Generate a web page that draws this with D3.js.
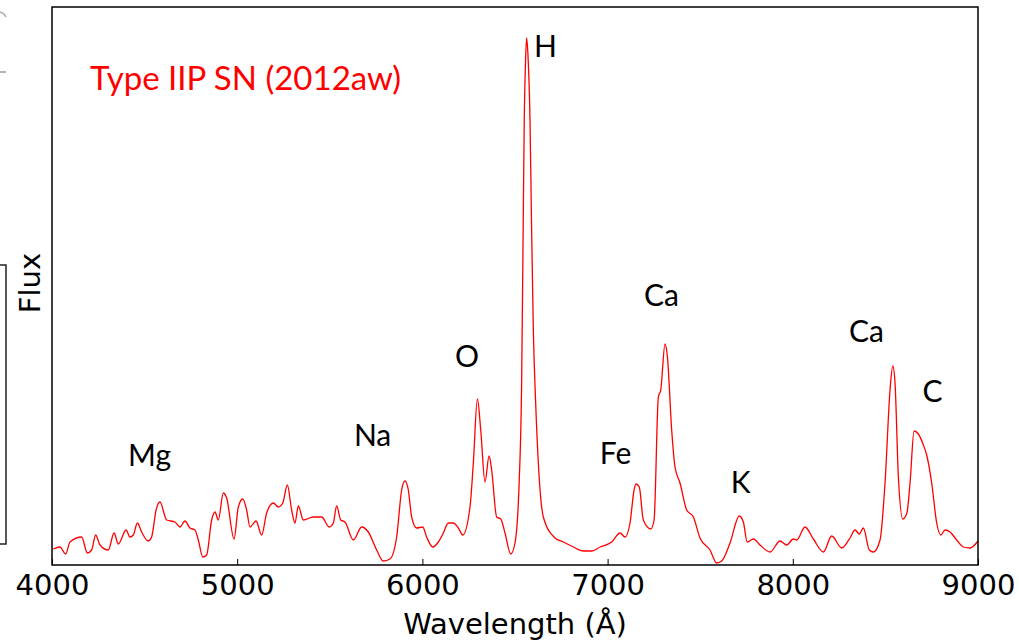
<!DOCTYPE html>
<html>
<head>
<meta charset="utf-8">
<script src="https://cdn.jsdelivr.net/npm/d3@7"></script>
<style>
  body { margin: 0; background: #fff; }
  svg { display: block; }
</style>
</head>
<body>
<script>
// spectrum of SN 2012aw (flux in arbitrary units)
const wavelength = [4007,4043,4074,4097,4160,4191,4214,4236,4259,4304,4335,4358,4400,4421,4439,4461,4484,4520,4538,4562,
  4583,4619,4664,4691,4718,4745,4772,4790,4814,4835,4862,4880,4898,4925,4943,4983,5006,5030,5051,5069,
  5102,5132,5159,5195,5222,5246,5271,5294,5312,5330,5357,5411,5456,5497,5519,5537,5559,5582,5627,5672,
  5708,5753,5789,5825,5861,5888,5906,5924,5942,5969,6002,6023,6056,6086,6113,6140,6167,6194,6218,6257,
  6275,6297,6315,6338,6360,6374,6401,6423,6446,6477,6500,6523,6536,6543,6550,6557,6563,6570,6581,6589,
  6599,6611,6626,6653,6716,6761,6815,6869,6914,6959,7022,7067,7094,7121,7143,7153,7171,7193,7233,7251,
  7274,7287,7310,7323,7346,7364,7391,7427,7463,7499,7553,7589,7616,7661,7711,7733,7754,7787,7823,7877,
  7931,7967,8003,8021,8066,8111,8165,8210,8264,8309,8336,8359,8381,8413,8435,8471,8498,8525,8540,8552,
  8570,8594,8616,8633,8655,8678,8705,8723,8750,8777,8799,8822,8849,8885,8921,8957,9000];
const flux = [0.16,0.18,0.11,0.23,0.28,0.12,0.15,0.30,0.20,0.15,0.32,0.21,0.35,0.28,0.30,0.42,0.33,0.24,0.28,0.55,
  0.63,0.45,0.43,0.38,0.44,0.37,0.35,0.25,0.08,0.10,0.45,0.53,0.45,0.72,0.67,0.26,0.58,0.66,0.55,0.38,
  0.44,0.30,0.52,0.62,0.58,0.62,0.80,0.55,0.42,0.59,0.45,0.48,0.48,0.38,0.42,0.59,0.45,0.43,0.25,0.38,
  0.33,0.15,0.04,0.06,0.28,0.75,0.84,0.75,0.48,0.37,0.38,0.28,0.18,0.23,0.32,0.42,0.42,0.37,0.30,0.58,
  1.02,1.66,1.35,0.83,1.09,0.95,0.48,0.46,0.32,0.11,0.22,0.85,1.85,3.15,4.45,5.05,5.27,5.10,4.45,3.45,
  2.35,1.65,1.02,0.48,0.27,0.23,0.18,0.14,0.14,0.18,0.23,0.32,0.28,0.42,0.75,0.81,0.78,0.45,0.36,0.45,
  1.68,1.75,2.21,2.08,1.35,0.98,0.82,0.55,0.48,0.27,0.15,0.02,0.04,0.22,0.49,0.43,0.23,0.26,0.20,0.13,
  0.24,0.20,0.26,0.25,0.38,0.26,0.13,0.29,0.17,0.27,0.35,0.31,0.37,0.15,0.13,0.25,0.82,1.75,1.99,1.82,
  0.88,0.46,0.52,0.82,1.34,1.31,1.20,1.10,0.82,0.42,0.30,0.35,0.33,0.25,0.18,0.17,0.24];

// line identifications
const lineLabels = ["Mg","Na","O","H","Fe","Ca","K","Ca","C"];
const labelWave  = [4527,5731,6241,6665,7043,7291,7718,8398,8755];
const labelFlux  = [0.99,1.19,1.98,5.08,1.01,2.59,0.72,2.23,1.63];

const xTicks = [4000,5000,6000,7000,8000,9000];
const title = "Type IIP SN (2012aw)";

const W = 1019, H = 640;
const plotL = 52, plotR = 978, plotT = 7, plotB = 565;

const svg = d3.select("body").append("svg")
  .attr("width", W).attr("height", H);

const x = d3.scaleLinear().domain([4000, 9000]).range([plotL, plotR]);
const y = d3.scaleLinear().domain([0, 5.58]).range([plotB, plotT]);

// stray bits of a neighbouring panel at the left edge
svg.append("rect")
  .attr("x", -10).attr("y", 265).attr("width", 16).attr("height", 279)
  .attr("fill", "none").attr("stroke", "#222").attr("stroke-width", 1.5);
svg.append("path").attr("d", "M0,12 Q4,13 6,17").attr("fill", "none").attr("stroke", "#aaa").attr("stroke-width", 1.5);
svg.append("path").attr("d", "M0,72 L6,72").attr("fill", "none").attr("stroke", "#999").attr("stroke-width", 1.5);

// spectrum
const pts = wavelength.map((w, i) => [w, flux[i]]);
svg.append("path")
  .datum(pts)
  .attr("fill", "none")
  .attr("stroke", "#ff0000")
  .attr("stroke-width", 1.3)
  .attr("d", d3.line().x(d => x(d[0])).y(d => y(d[1])).curve(d3.curveMonotoneX));

// frame
svg.append("rect")
  .attr("x", plotL).attr("y", plotT)
  .attr("width", plotR - plotL).attr("height", plotB - plotT)
  .attr("fill", "none").attr("stroke", "#000").attr("stroke-width", 1.5);

// bottom axis, ticks pointing inward
const xAxis = svg.append("g")
  .attr("transform", `translate(0,${plotB})`)
  .call(d3.axisBottom(x).tickValues(xTicks).tickFormat(d3.format("d")).tickSizeInner(-6).tickSizeOuter(0).tickPadding(12));
xAxis.select(".domain").remove();
xAxis.selectAll("line").attr("stroke", "#000").attr("stroke-width", 1);
xAxis.selectAll("text")
  .attr("font-family", "DejaVu Sans").attr("font-size", 29).attr("fill", "#000")
  .attr("dy", null).attr("y", 30);

svg.append("text")
  .attr("x", (plotL + plotR) / 2).attr("y", 634)
  .attr("text-anchor", "middle")
  .attr("font-family", "DejaVu Sans").attr("font-size", 29)
  .text("Wavelength (Å)");

svg.append("text")
  .attr("transform", "translate(40,283) rotate(-90)")
  .attr("text-anchor", "middle")
  .attr("font-family", "DejaVu Sans").attr("font-size", 29)
  .text("Flux");

// annotations
svg.append("text")
  .attr("x", 90).attr("y", 90)
  .attr("font-family", "Lato").attr("font-size", 33).attr("fill", "#ff0000")
  .text(title);

svg.selectAll("text.ion")
  .data(lineLabels)
  .join("text")
  .attr("class", "ion")
  .attr("x", (d, i) => x(labelWave[i]))
  .attr("y", (d, i) => y(labelFlux[i]))
  .attr("text-anchor", "middle")
  .attr("font-family", "Lato").attr("font-size", 30).attr("fill", "#000")
  .text(d => d);
</script>
</body>
</html>
